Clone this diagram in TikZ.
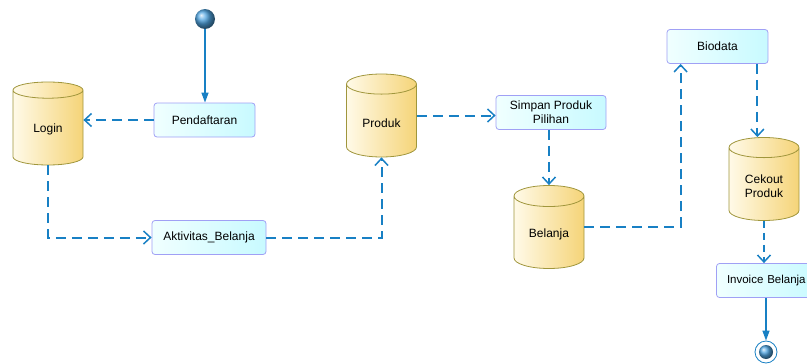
\documentclass[tikz,border=0pt]{standalone}
\usepackage{fontspec}
\setmainfont{Liberation Sans}
\usetikzlibrary{shapes.geometric,arrows.meta}
\definecolor{flow}{RGB}{24,128,196}
\definecolor{dot}{RGB}{80,165,225}
\definecolor{actline}{RGB}{160,160,245}
\definecolor{actleft}{RGB}{240,255,255}
\definecolor{actright}{RGB}{200,250,255}
\definecolor{storeline}{RGB}{160,150,60}
\definecolor{storeleft}{RGB}{255,250,232}
\definecolor{storeright}{RGB}{245,212,120}

\begin{document}
\begin{tikzpicture}[x=1pt,y=-1pt,
   act/.style={draw=actline,thick,rounded corners=3pt,left color=actleft,right color=actright,minimum width=#1,minimum height=34pt,inner sep=2pt,align=center,font=\fontsize{12}{14}\selectfont},
   act/.default=101pt,
   store/.style={cylinder,shape border rotate=90,aspect=0.45,draw=storeline,thick,left color=storeleft,right color=storeright,minimum width=70pt,minimum height=83pt,align=center,anchor=shape center,font=\fontsize{12}{14}\selectfont},
   dflow/.style={draw=flow,line width=2pt,dash pattern=on 10pt off 6pt,-{Straight Barb[length=7pt,width=13pt,line width=1.5pt]}},
   cflow/.style={draw=flow,line width=1.3pt,-{Triangle[length=10pt,width=7pt]}}]
	\useasboundingbox (0,0) rectangle (807,364);
	% nodes
	\node[circle,minimum size=20pt,inner sep=0pt,shading=ball,ball color=dot] (start) at (205,19) {};
	\node[act] (pend) at (204.5,120) {Pendaftaran};
	\node[store] (login) at (48,123.5) {Login};
	\node[act=114pt] (aktiv) at (209,237.5) {Aktivitas\_Belanja};
	\node[store] (produk) at (381.5,115.5) {Produk};
	\node[act=110pt] (simpan) at (551,112.5) {Simpan Produk\\Pilihan};
	\node[store] (belanja) at (549,227) {Belanja};
	\node[act] (biodata) at (717.5,46.5) {Biodata};
	\node[store] (cekout) at (764,179) {Cekout\\Produk};
	\node[act,text width=80pt,inner xsep=9pt,align=left,font=\fontsize{11.5}{14}\selectfont] (invoice) at (767,280.5) {Invoice Belanja};
	\node[circle,draw=flow,thick,fill=white,minimum size=22pt,inner sep=0pt] (end) at (766,352) {};
	\node[circle,minimum size=14pt,inner sep=0pt,shading=ball,ball color=dot] (endin) at (end) {};
	% connectors
	\draw[cflow] (start) -- (start |- pend.north);
	\draw[dflow] (pend.west) -- (pend.west -| login.east);
	\draw[dflow] (login.south) |- (aktiv.west);
	\draw[dflow] (aktiv.east) -| (produk.south);
	\draw[dflow] (produk.shape center -| produk.east) -- (produk.shape center -| simpan.west);
	\draw[dflow,line width=1.2pt] (belanja.north |- simpan.south) -- (belanja.north);
	\draw[dflow] (belanja.shape center -| belanja.east) -| ([xshift=14pt]biodata.south west);
	\draw[dflow] ([xshift=-11pt]biodata.south east) -- ([xshift=-11pt]biodata.south east |- cekout.north);
	\draw[dflow,dash pattern=on 7pt off 5pt] (cekout.south) -- (cekout.south |- invoice.north);
	\draw[cflow] (end |- invoice.south) -- (end.north);
\end{tikzpicture}
\end{document}
